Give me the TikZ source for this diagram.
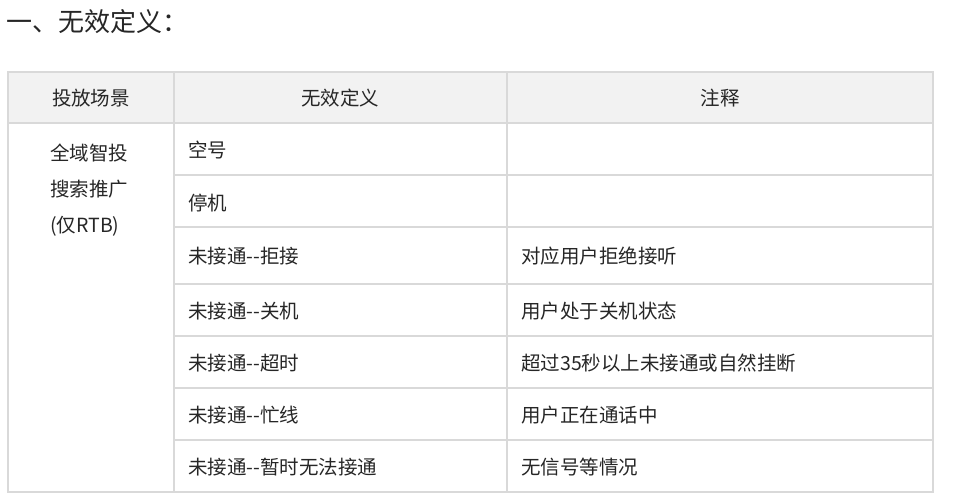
\documentclass[tikz,border=0pt]{standalone}
\usepackage{fontspec}
\newfontfamily\cjk{Noto Sans CJK SC}
\tikzset{
    grid line/.style={draw=black!15, line width=1.5pt},
    head fill/.style={fill=black!5},
    cell/.style={font=\cjk\fontsize{19.5}{23}\selectfont, text=black!85, inner sep=0pt},
    left cell/.style={cell, anchor=west},
}
\begin{document}
\begin{tikzpicture}[x=1pt,y=-1pt]
    \useasboundingbox (0,0) rectangle (959,502);
    % title
    \node[cell, anchor=west, font=\cjk\fontsize{26}{29}\selectfont] (title) at (6,22) {一、无效定义：};
    % header and borders
    \path[head fill] (8,72) rectangle (933,123);
    \foreach \y in {123,175,227,284,336,388,440}
        \draw[grid line] (174,\y) -- (933,\y);
    \draw[grid line] (8,123) -- (174,123);
    \draw[grid line] (8,72) rectangle (933,492);
    \draw[grid line] (174,72) -- (174,492);
    \draw[grid line] (507,72) -- (507,492);
    % header texts
    \node[cell] (h1) at (91,98) {投放场景};
    \node[cell] (h2) at (340,98) {无效定义};
    \node[cell] (h3) at (720,98) {注释};
    % first column
    \node[left cell] (scene a) at (50,153) {全域智投};
    \node[left cell] (scene b) at (50,189) {搜索推广};
    \node[left cell] (scene c) at (50,226) {(仅RTB)};
    % definitions
    \node[left cell] (d1) at (188,150) {空号};
    \node[left cell] (d2) at (188,203) {停机};
    \node[left cell] (d3) at (188,256) {未接通-{}-拒接};
    \node[left cell] (d4) at (188,311) {未接通-{}-关机};
    \node[left cell] (d5) at (188,363) {未接通-{}-超时};
    \node[left cell] (d6) at (188,415) {未接通-{}-忙线};
    \node[left cell] (d7) at (188,467) {未接通-{}-暂时无法接通};
    % notes
    \node[left cell] (n3) at (521,256) {对应用户拒绝接听};
    \node[left cell] (n4) at (521,311) {用户处于关机状态};
    \node[left cell] (n5) at (521,363) {超过35秒以上未接通或自然挂断};
    \node[left cell] (n6) at (521,415) {用户正在通话中};
    \node[left cell] (n7) at (521,467) {无信号等情况};
\end{tikzpicture}
\end{document}
